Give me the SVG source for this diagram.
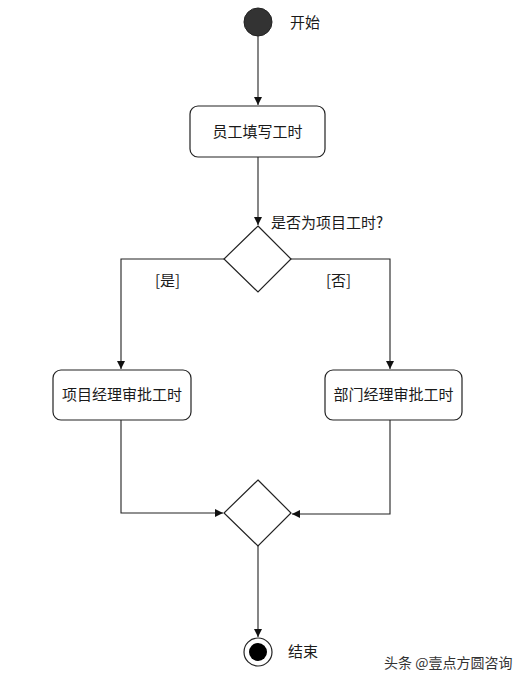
<svg xmlns="http://www.w3.org/2000/svg" width="519" height="684" viewBox="0 0 519 684">
<style>
.box{fill:#fff;stroke:#222;stroke-width:1.2}
.ln{fill:none;stroke:#222;stroke-width:1.1;marker-end:url(#ah)}
.t{font-family:"Noto Sans CJK SC","Liberation Sans",sans-serif;font-size:15px;fill:#1a1a1a}
.wm{font-family:"Noto Sans CJK SC","Liberation Sans",sans-serif;font-size:14px;fill:#333}
</style>
<defs>
<marker id="ah" viewBox="0 0 10 10" refX="10" refY="5" markerWidth="8" markerHeight="8" markerUnits="userSpaceOnUse" orient="auto">
<path d="M0,0 L10,5 L0,10 z" fill="#111"/>
</marker>
</defs>
<rect width="519" height="684" fill="#fff"/>
<g id="connectors">
<path class="ln" d="M258,36 V105"/>
<path class="ln" d="M258,157 V225"/>
<path class="ln" d="M224,259 H121 V369"/>
<path class="ln" d="M291,259 H390 V369"/>
<path class="ln" d="M121,420 V513 H223"/>
<path class="ln" d="M390,420 V514 H292"/>
<path class="ln" d="M258,546 V637"/>
</g>
<g id="start">
<circle cx="258" cy="22" r="14" fill="#333" stroke="#222" stroke-width="1"/>
<text class="t" x="290" y="28">开始</text>
</g>
<g id="fill-hours">
<rect class="box" x="190" y="106" width="135" height="51" rx="8"/>
<text class="t" x="257.500" y="137" text-anchor="middle">员工填写工时</text>
</g>
<g id="decision1">
<path class="box" d="M258,226 L291,259 L258,292 L224,259 Z"/>
<text class="t" x="271" y="228">是否为项目工时?</text>
<text class="t" x="155" y="286">[是]</text>
<text class="t" x="326" y="286">[否]</text>
</g>
<g id="pm-approve">
<rect class="box" x="53" y="370" width="138" height="50" rx="8"/>
<text class="t" x="122" y="400" text-anchor="middle">项目经理审批工时</text>
</g>
<g id="dm-approve">
<rect class="box" x="325" y="370" width="137" height="50" rx="8"/>
<text class="t" x="393.500" y="400" text-anchor="middle">部门经理审批工时</text>
</g>
<g id="merge">
<path class="box" d="M258,480 L291,513 L258,546 L224,513 Z"/>
</g>
<g id="end">
<circle cx="258" cy="652" r="14" fill="#fff" stroke="#222" stroke-width="1.2"/>
<circle cx="258" cy="652" r="9" fill="#000"/>
<text class="t" x="288" y="657">结束</text>
</g>
<text class="wm" x="384" y="668">头条 @壹点方圆咨询</text>
</svg>
